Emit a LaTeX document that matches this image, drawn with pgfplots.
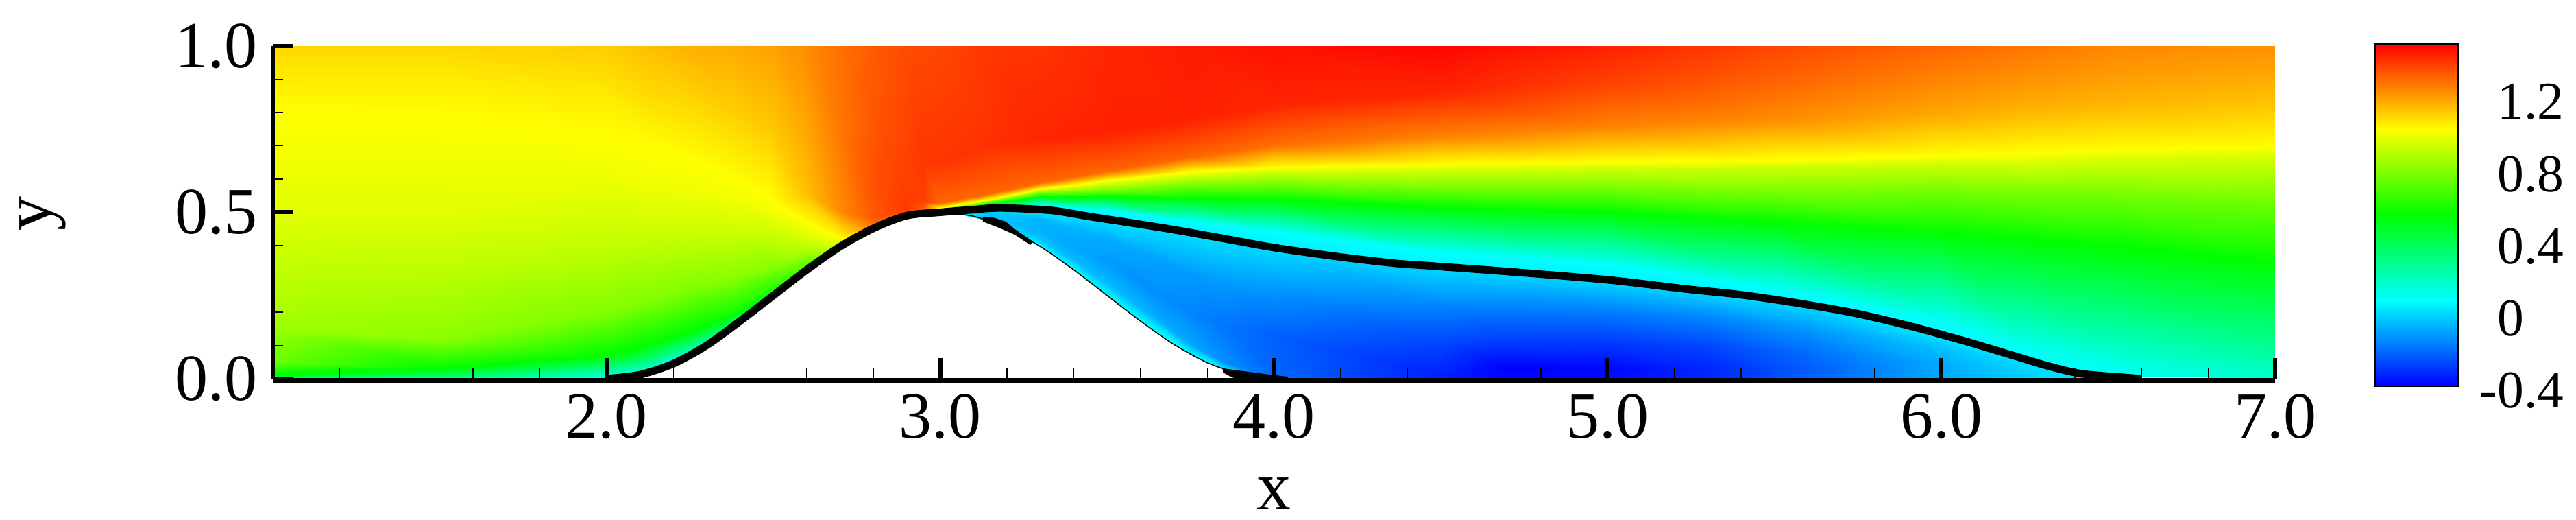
\documentclass[border=0pt]{standalone}
\usepackage{pgfplots}
\pgfplotsset{compat=1.18}
\usepackage{pgfplotstable}
\usepackage{fontspec}
\setmainfont{Liberation Serif}
\pgfplotsset{colormap={field}{rgb255=(0,0,255) rgb255=(0,255,255) rgb255=(0,255,0) rgb255=(255,255,0) rgb255=(255,0,0)}}
\pgfplotstableread{
x y v
1.0 0 .455
1.0 .015 .55
1.0 .05 .74
1.0 .15 .845
1.0 .3 .90
1.0 .5 .97
1.0 .8 1.025
1.0 .9 1.06
1.0 1 1.10
1.5 0 .22
1.5 .012 .41
1.5 .03 .55
1.5 .12 .81
1.5 .3 .89
1.5 .5 .97
1.5 .79 1.025
1.5 .9 1.06
1.5 1 1.10
2.0 0 .075
2.0 .03 .31
2.0 .07 .55
2.0 .2 .79
2.0 .4 .91
2.0 .6 .99
2.0 .73 1.025
2.0 .87 1.07
2.0 1 1.12
2.12 .0175 .075
2.12 .045 .29
2.12 .10 .55
2.12 .23 .79
2.12 .42 .92
2.12 .59 1.0
2.12 .70 1.025
2.12 .85 1.09
2.12 1 1.145
2.25 .074 .075
2.25 .09 .265
2.25 .14 .55
2.25 .27 .79
2.25 .44 .93
2.25 .58 1.0
2.25 .66 1.025
2.25 .83 1.10
2.25 1 1.17
2.38 .158 .26
2.38 .17 .40
2.38 .205 .60
2.38 .30 .80
2.38 .44 .93
2.38 .54 1.0
2.38 .60 1.025
2.38 .79 1.11
2.38 1 1.18
2.5 .25 .455
2.5 .26 .55
2.5 .28 .645
2.5 .34 .81
2.5 .44 .93
2.5 .50 1.0
2.5 .53 1.025
2.5 .75 1.13
2.5 1 1.20
2.6 .327 .60
2.6 .34 .69
2.6 .36 .79
2.6 .40 .91
2.6 .44 .98
2.6 .47 1.025
2.6 .55 1.14
2.6 .75 1.19
2.6 1 1.24
2.7 .397 .88
2.7 .405 .93
2.7 .412 .98
2.7 .42 1.0
2.7 .425 1.025
2.7 .44 1.07
2.7 .50 1.24
2.7 .75 1.28
2.7 1 1.29
2.8 .452 1.215
2.8 .456 1.24
2.8 .46 1.26
2.8 .465 1.29
2.8 .47 1.31
2.8 .48 1.33
2.8 .55 1.35
2.8 .8 1.34
2.8 1 1.33
2.9 .49 1.025
2.9 .497 1.20
2.9 .499 1.28
2.9 .502 1.33
2.9 .505 1.37
2.9 .508 1.39
2.9 .53 1.39
2.9 .65 1.38
2.9 1 1.36
2.95 .497 .98
2.95 .50 1.03
2.95 .502 1.12
2.95 .504 1.20
2.95 .507 1.28
2.95 .51 1.33
2.95 .53 1.38
2.95 .65 1.40
2.95 1 1.365
3.0 .50 .455
3.0 .503 .55
3.0 .506 .69
3.0 .509 .88
3.0 .511 .98
3.0 .513 1.025
3.0 .527 1.31
3.0 .65 1.40
3.0 1 1.37
3.15 .512 .075
3.15 .516 .17
3.15 .526 .55
3.15 .533 .79
3.15 .537 .93
3.15 .541 1.025
3.15 .557 1.31
3.15 .7 1.41
3.15 1 1.40
3.3 .509 .05
3.3 .522 .075
3.3 .549 .55
3.3 .56 .79
3.3 .566 .93
3.3 .571 1.025
3.3 .59 1.31
3.3 .72 1.43
3.3 1 1.405
3.5 .482 .05
3.5 .506 .075
3.5 .549 .55
3.5 .57 .79
3.5 .585 .93
3.5 .596 1.025
3.5 .625 1.31
3.5 .74 1.44
3.5 1 1.43
3.75 .439 .05
3.75 .472 .075
3.75 .544 .55
3.75 .585 .79
3.75 .608 .93
3.75 .623 1.025
3.75 .665 1.31
3.75 .78 1.44
3.75 1 1.45
4.0 .394 .05
4.0 .442 .075
4.0 .541 .55
4.0 .59 .79
4.0 .62 .93
4.0 .636 1.025
4.0 .70 1.29
4.0 .82 1.43
4.0 1 1.47
4.5 .337 .05
4.5 .377 .075
4.5 .516 .55
4.5 .58 .79
4.5 .625 .93
4.5 .646 1.025
4.5 .73 1.26
4.5 .86 1.43
4.5 1 1.49
5.0 .297 .05
5.0 .342 .075
5.0 .50 .55
5.0 .58 .79
5.0 .63 .93
5.0 .651 1.025
5.0 .76 1.26
5.0 .89 1.38
5.0 1 1.44
5.5 .237 .05
5.5 .265 .075
5.5 .47 .55
5.5 .57 .79
5.5 .635 .93
5.5 .658 1.025
5.5 .78 1.24
5.5 .9 1.32
5.5 1 1.37
6.0 .128 .06
6.0 .18 .10
6.0 .44 .55
6.0 .56 .76
6.0 .645 .93
6.0 .671 1.025
6.0 .80 1.19
6.0 .91 1.26
6.0 1 1.31
6.25 .062 .075
6.25 .11 .12
6.25 .42 .55
6.25 .55 .76
6.25 .65 .95
6.25 .679 1.025
6.25 .81 1.17
6.25 .92 1.24
6.25 1 1.28
6.5 .01 .085
6.5 .05 .12
6.5 .40 .55
6.5 .55 .76
6.5 .66 .95
6.5 .686 1.025
6.5 .82 1.16
6.5 .92 1.215
6.5 1 1.25
7.0 0 .17
7.0 .05 .22
7.0 .35 .55
7.0 .52 .74
7.0 .67 .95
7.0 .696 1.025
7.0 .82 1.13
7.0 .92 1.19
7.0 1 1.23
}\tabUpper
\pgfplotstableread{
x y v
3.05 .497 .075
3.05 .499 .03
3.05 .501 .03
3.05 .503 .03
3.05 .505 .05
3.15 .473 .075
3.15 .483 -.02
3.15 .495 -.04
3.15 .505 -.02
3.15 .512 .05
3.3 .397 .075
3.3 .417 -.03
3.3 .445 -.07
3.3 .48 -.06
3.3 .509 .05
3.4 .327 .075
3.4 .36 -.06
3.4 .40 -.09
3.4 .45 -.07
3.4 .500 .04
3.5 .25 .075
3.5 .29 -.06
3.5 .35 -.11
3.5 .42 -.08
3.5 .482 .03
3.6 .173 .075
3.6 .213 -.06
3.6 .29 -.13
3.6 .38 -.09
3.6 .464 .02
3.75 .073 .075
3.75 .103 -.09
3.75 .205 -.15
3.75 .32 -.11
3.75 .439 .02
3.85 .027 .06
3.85 .05 -.13
3.85 .16 -.18
3.85 .29 -.11
3.85 .421 .015
4.0 0 -.20
4.0 .012 -.21
4.0 .13 -.22
4.0 .26 -.125
4.0 .394 .01
4.5 0 -.33
4.5 .012 -.34
4.5 .11 -.27
4.5 .22 -.15
4.5 .337 .01
4.7 0 -.385
4.7 .03 -.40
4.7 .12 -.28
4.7 .22 -.15
4.7 .322 .01
5.0 0 -.375
5.0 .03 -.39
5.0 .1 -.305
5.0 .2 -.17
5.0 .297 .01
5.3 0 -.32
5.3 .03 -.33
5.3 .09 -.28
5.3 .18 -.16
5.3 .264 .01
5.6 0 -.22
5.6 .03 -.23
5.6 .08 -.20
5.6 .15 -.115
5.6 .222 .01
6.0 0 -.08
6.0 .02 -.085
6.0 .05 -.08
6.0 .09 -.04
6.0 .128 .03
6.25 0 -.01
6.25 .01 -.01
6.25 .025 -.005
6.25 .045 .01
6.25 .062 .04
6.5 0 .05
6.5 .002 .05
6.5 .004 .05
6.5 .006 .05
6.5 .008 .06
}\tabLower
\pgfplotstableread{
x y v
0 -0.4 -0.4
0 0.075 0.075
0 0.55 0.55
0 1.025 1.025
0 1.5 1.5
1 -0.4 -0.4
1 0.075 0.075
1 0.55 0.55
1 1.025 1.025
1 1.5 1.5
}\tabBar
\begin{document}
\begin{tikzpicture}
\path[use as bounding box] (0,0) rectangle (751.6pt,151.6pt);
\begin{axis}[
  at={(79.6pt,41.2pt)}, anchor=south west,
  scale only axis, width=584.2pt, height=97pt,
  xmin=1, xmax=7, ymin=0, ymax=1,
  clip=false,
  colormap name=field, point meta min=-0.4, point meta max=1.5,
  axis x line*=bottom, axis y line*=left,
  axis line style={-},
  x axis line style={line width=1.5pt,yshift=-0.6pt},
  y axis line style={line width=1.1pt},
  axis on top,
  xtick={1,2,3,4,5,6,7}, xticklabels={,2.0,3.0,4.0,5.0,6.0,7.0},
  ytick={0,0.5,1}, yticklabels={0.0,0.5,1.0},
  minor x tick num=4, minor y tick num=4,
  tick align=inside, major tick length=6pt, minor tick length=3pt,
  major tick style={line width=1.2pt,black},
  minor tick style={line width=0.25pt,black},
  tick label style={font=\fontsize{19.2}{20}\selectfont},
  xticklabel style={yshift=-1pt},
  yticklabel style={xshift=-1pt},
  xlabel={x}, ylabel={y},
  label style={font=\fontsize{20}{22}\selectfont},
  xlabel style={at={(axis description cs:0.5,-0.346)},anchor=center},
  ylabel style={at={(axis description cs:-0.115,0.495)},anchor=center},
]
\addplot[surf,shader=interp,mesh/cols=9,mesh/rows=25,mesh/check=false,point meta=\thisrow{v}] table[x=x,y=y] {\tabUpper};
\addplot[surf,shader=interp,mesh/cols=5,mesh/rows=17,mesh/check=false,point meta=\thisrow{v}] table[x=x,y=y] {\tabLower};
\addplot[black,line width=0.3pt,smooth] coordinates {(3.0,.5)(3.1,.488)(3.2,.452)(3.3,.397)(3.4,.327)(3.5,.25)(3.6,.173)(3.7,.103)(3.8,.048)(3.9,.012)};
\addplot[black,line width=2.2pt,smooth,tension=0.5] coordinates {
(2,0)(2.1,.012)(2.2,.045)(2.3,.1)(2.4,.173)(2.5,.25)(2.6,.327)(2.7,.397)(2.8,.452)(2.9,.49)
(3.0,.50)(3.1,.508)(3.18,.513)(3.33,.506)(3.45,.487)(3.675,.452)(3.845,.422)(4.0,.394)(4.19,.367)(4.36,.347)(4.47,.339)(4.70,.322)(5.0,.297)(5.23,.27)(5.40,.252)(5.57,.227)(5.74,.197)(5.91,.157)(6.07,.113)(6.22,.068)(6.32,.038)(6.42,.015)(6.56,.003)(6.6,0)};
\addplot[fill=black,draw=none] coordinates {(3.128,.487)(3.157,.485)(3.196,.472)(3.227,.447)(3.278,.412)(3.270,.402)(3.223,.433)(3.175,.454)(3.128,.472)} -- cycle;
\addplot[fill=black,draw=none] coordinates {(3.847,.031)(3.989,.012)(4.042,.006)(4.042,-.012)(3.936,-.012)(3.874,.004)(3.847,.019)} -- cycle;
\end{axis}
\begin{axis}[
  at={(693pt,39pt)}, anchor=south west,
  scale only axis, width=24.2pt, height=99.8pt,
  xmin=0, xmax=1, ymin=-0.4, ymax=1.5,
  colormap name=field, point meta min=-0.4, point meta max=1.5,
  axis on top, axis line style={line width=0.3pt},
  xtick=\empty,
  ytick={-0.4,0,0.4,0.8,1.2}, yticklabels={\llap{-}0.4,0,0.4,0.8,1.2},
  ytick pos=right, yticklabel pos=right, tickwidth=0pt,
  yticklabel style={font=\fontsize{15.5}{17}\selectfont,anchor=west,yshift=-1.2pt,xshift=8pt},
]
\addplot[surf,shader=interp,mesh/cols=5,mesh/rows=2,mesh/check=false,point meta=\thisrow{v}] table[x=x,y=y] {\tabBar};
\end{axis}
\end{tikzpicture}
\end{document}
